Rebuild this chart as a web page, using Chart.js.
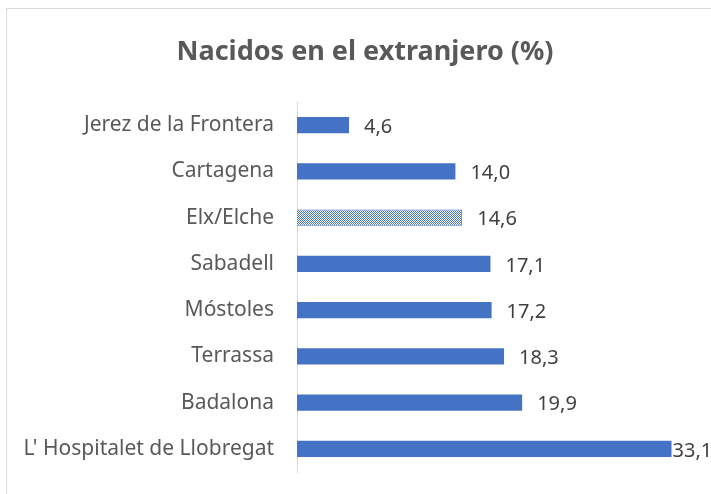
<!DOCTYPE html>
<html>
<head>
<meta charset="utf-8">
<script src="https://cdn.jsdelivr.net/npm/chart.js@4"></script>
<style>
  html, body { margin: 0; padding: 0; background: #fff; overflow: hidden; }
  #wrap { position: relative; width: 711px; height: 494px; }
  #frame { position: absolute; left: 6px; top: 8px; width: 720px; height: 500px; border: 1px solid #d9d9d9; pointer-events: none; }
</style>
</head>
<body>
<div id="wrap">
  <canvas id="barChart" width="711" height="494"></canvas>
  <div id="frame"></div>
</div>
<script>
const chartTitle = 'Nacidos en el extranjero (%)';
const cities = ['Jerez de la Frontera', 'Cartagena', 'Elx/Elche', 'Sabadell', 'Móstoles', 'Terrassa', 'Badalona', "L' Hospitalet de Llobregat"];
const foreignBorn = [4.6, 14.0, 14.6, 17.1, 17.2, 18.3, 19.9, 33.1];
const highlighted = 'Elx/Elche';

const blue = '#4472C4';

// checkered fill for the highlighted city
function checkerPattern() {
    const c = document.createElement('canvas');
    c.width = 2; c.height = 2;
    const g = c.getContext('2d');
    g.fillStyle = '#ffffff';
    g.fillRect(0, 0, 2, 2);
    g.fillStyle = blue;
    g.fillRect(0, 0, 1, 1);
    g.fillRect(1, 1, 1, 1);
    return g.createPattern(c, 'repeat');
}

const ctx = document.getElementById('barChart').getContext('2d');
const pattern = checkerPattern();

// title is centred on the outer chart frame, not on the canvas
const frameTitle = {
    id: 'frameTitle',
    afterDraw(chart) {
        const c = chart.ctx;
        c.save();
        c.font = 'bold 27px "Noto Sans"';
        c.fillStyle = '#595959';
        c.textAlign = 'center';
        c.textBaseline = 'middle';
        c.fillText(chartTitle, 365, 52);
        c.restore();
    }
};

const valueLabels = {
    id: 'valueLabels',
    afterDatasetsDraw(chart) {
        const c = chart.ctx;
        const meta = chart.getDatasetMeta(0);
        c.save();
        c.font = '20px "Noto Sans"';
        c.fillStyle = '#404040';
        c.textBaseline = 'middle';
        meta.data.forEach((bar, i) => {
            const txt = foreignBorn[i].toFixed(1).replace('.', ',');
            const w = c.measureText(txt).width;
            let x = bar.x + 15;
            if (x + w > chart.width) x = bar.x + 1;
            c.fillText(txt, x, bar.y + 2);
        });
        c.restore();
    }
};

window.barChart = new Chart(ctx, {
    type: 'bar',
    data: {
        labels: cities,
        datasets: [
            {
                data: foreignBorn,
                backgroundColor: cities.map(c => c === highlighted ? pattern : blue),
                borderColor: blue,
                borderWidth: cities.map(c => c === highlighted ? 1 : 0),
                barPercentage: 0.35,
                categoryPercentage: 1
            }
        ]
    },
    options: {
        indexAxis: 'y',
        responsive: false,
        animation: false,
        layout: {
            padding: { left: 0, right: 18, top: 102, bottom: 22 }
        },
        plugins: {
            legend: { display: false },
            tooltip: { enabled: false },
            title: { display: false }
        },
        scales: {
            x: {
                display: false,
                min: 0,
                max: 35
            },
            y: {
                afterFit: (scale) => {
                    scale.width = 297;
                    scale.paddingTop = 0;
                    scale.paddingBottom = 0;
                },
                grid: { display: false, drawTicks: false },
                border: { display: true, color: '#d9d9d9', width: 1 },
                ticks: {
                    color: '#595959',
                    padding: 23,
                    font: { family: '"Noto Sans"', size: 21 }
                }
            }
        }
    },
    plugins: [valueLabels, frameTitle]
});
</script>
</body>
</html>
